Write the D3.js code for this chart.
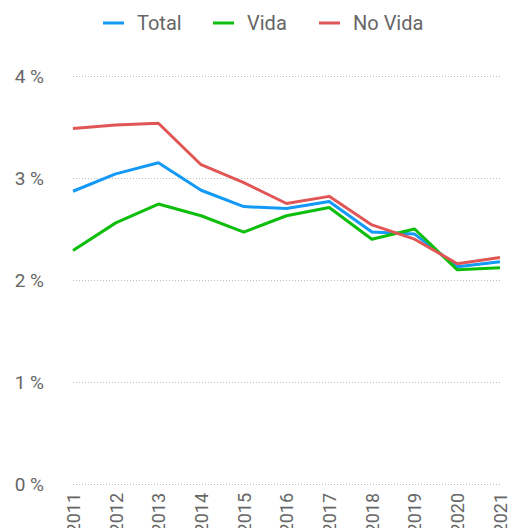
<!DOCTYPE html>
<html>
<head>
<meta charset="utf-8">
<script src="https://cdn.jsdelivr.net/npm/d3@7"></script>
<style>
  body { margin: 0; background: #fff; }
  text { font-family: Roboto, sans-serif; fill: #666; }
</style>
</head>
<body>
<div id="chart"></div>
<script>
// data (percent)
var years = ["2011", "2012", "2013", "2014", "2015", "2016", "2017", "2018", "2019", "2020", "2021"];
var total  = [2.87, 3.04, 3.15, 2.88, 2.72, 2.70, 2.77, 2.47, 2.45, 2.13, 2.18];
var vida   = [2.29, 2.56, 2.745, 2.63, 2.47, 2.63, 2.71, 2.40, 2.50, 2.10, 2.12];
var noVida = [3.485, 3.52, 3.537, 3.13, 2.955, 2.75, 2.82, 2.54, 2.40, 2.16, 2.22];
var yTicks = [0, 1, 2, 3, 4];

var series = [
  {name: "Total", values: total, color: "#1399f6"},
  {name: "Vida", values: vida, color: "#0dbe0d"},
  {name: "No Vida", values: noVida, color: "#e05656"}
];

var margin = {top: 76, right: 11, bottom: 44, left: 73},
    width = 511 - margin.left - margin.right,
    height = 528 - margin.top - margin.bottom;

var svg = d3.select("#chart")
  .append("svg")
    .attr("width", 511)
    .attr("height", 528)
  .append("g")
    .attr("transform", "translate(" + margin.left + "," + margin.top + ")");

var x = d3.scalePoint()
    .domain(years)
    .range([0, width]);

var y = d3.scaleLinear()
    .domain([0, 4])
    .range([height, 0]);

// y axis with dotted gridlines
var yAxis = svg.append("g")
    .call(d3.axisLeft(y).tickValues(yTicks).tickSize(-width).tickPadding(0)
      .tickFormat(function(d) { return d + " %"; }));
yAxis.select(".domain").remove();
yAxis.selectAll(".tick line")
    .attr("stroke", "#bdbdbd")
    .attr("stroke-dasharray", "1,2");
yAxis.selectAll(".tick text")
    .attr("x", -29)
    .attr("dy", "0.35em")
    .style("font-size", "19px")
    .attr("fill", "#666");

// x axis, rotated labels
var xAxis = svg.append("g")
    .attr("transform", "translate(0," + height + ")")
    .call(d3.axisBottom(x).tickSize(0));
xAxis.select(".domain").remove();
xAxis.selectAll(".tick text")
    .attr("transform", "rotate(-90)")
    .attr("text-anchor", "end")
    .attr("x", -9)
    .attr("y", 0)
    .attr("dy", "0.35em")
    .style("font-size", "18px")
    .attr("fill", "#666");

var line = d3.line()
    .x(function(d, i) { return x(years[i]); })
    .y(function(d) { return y(d); });

svg.selectAll(".series")
  .data(series)
  .enter()
  .append("path")
    .attr("class", "series")
    .attr("fill", "none")
    .attr("stroke", function(d) { return d.color; })
    .attr("stroke-width", 3)
    .attr("stroke-linejoin", "round")
    .attr("d", function(d) { return line(d.values); });

// legend
var legendX = [103, 213, 319];
var legend = d3.select("svg").append("g");
var item = legend.selectAll("g")
  .data(series)
  .enter()
  .append("g")
    .attr("transform", function(d, i) { return "translate(" + legendX[i] + ",23)"; });
item.append("line")
    .attr("x1", 0).attr("x2", 21)
    .attr("stroke", function(d) { return d.color; })
    .attr("stroke-width", 3);
item.append("text")
    .attr("x", 34)
    .attr("dy", "0.36em")
    .style("font-size", "20px")
    .text(function(d) { return d.name; });
</script>
</body>
</html>
